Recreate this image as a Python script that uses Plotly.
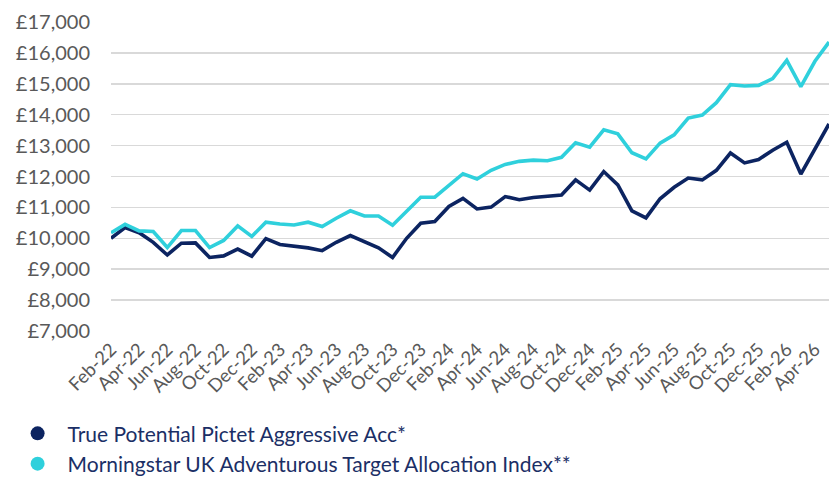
import plotly.graph_objects as go

months = ["Feb-22","Mar-22","Apr-22","May-22","Jun-22","Jul-22","Aug-22","Sep-22","Oct-22","Nov-22","Dec-22",
          "Jan-23","Feb-23","Mar-23","Apr-23","May-23","Jun-23","Jul-23","Aug-23","Sep-23","Oct-23","Nov-23","Dec-23",
          "Jan-24","Feb-24","Mar-24","Apr-24","May-24","Jun-24","Jul-24","Aug-24","Sep-24","Oct-24","Nov-24","Dec-24",
          "Jan-25","Feb-25","Mar-25","Apr-25","May-25","Jun-25","Jul-25","Aug-25","Sep-25","Oct-25","Nov-25","Dec-25",
          "Jan-26","Feb-26","Mar-26","Apr-26","May-26"]

fund = [10000, 10350, 10180, 9870, 9460, 9840, 9850, 9380, 9430, 9650, 9420,
        9990, 9800, 9740, 9690, 9600, 9870, 10090, 9900, 9690, 9380, 10000, 10490,
        10540, 11030, 11290, 10950, 11010, 11350, 11250, 11320, 11350, 11400, 11890, 11560,
        12160, 11730, 10890, 10660, 11280, 11650, 11950, 11890, 12200, 12760, 12440, 12550,
        12850, 13110, 12080, 12900, 13700]

index = [10180, 10450, 10240, 10220, 9700, 10250, 10250, 9700, 9930, 10400, 10060,
         10520, 10460, 10430, 10520, 10380, 10650, 10890, 10720, 10720, 10420, 10880, 11330,
         11330, 11710, 12090, 11920, 12200, 12390, 12490, 12530, 12510, 12620, 13090, 12950,
         13510, 13380, 12770, 12570, 13080, 13350, 13890, 13990, 14390, 14970, 14930, 14950,
         15170, 15760, 14910, 15730, 16350]

y_ticks = [7000, 8000, 9000, 10000, 11000, 12000, 13000, 14000, 15000, 16000, 17000]
y_tick_labels = ["£7,000", "£8,000", "£9,000", "£10,000", "£11,000", "£12,000",
                 "£13,000", "£14,000", "£15,000", "£16,000", "£17,000"]

series_names = ["True Potential Pictet Aggressive Acc*",
                "Morningstar UK Adventurous Target Allocation Index**"]

NAVY = "#0c2461"
CYAN = "#2fd0dc"

x = list(range(len(months)))
tick_idx = x[::2][:26]

fig = go.Figure()
fig.add_trace(go.Scatter(x=x, y=fund, mode="lines", line=dict(color=NAVY, width=3.6),
                         showlegend=False, hoverinfo="skip"))
fig.add_trace(go.Scatter(x=x, y=index, mode="lines", line=dict(color=CYAN, width=3.6),
                         showlegend=False, hoverinfo="skip"))
# legend entries
fig.add_trace(go.Scatter(x=[None], y=[None], mode="markers", name=series_names[0],
                         marker=dict(color=NAVY, size=14, symbol="circle")))
fig.add_trace(go.Scatter(x=[None], y=[None], mode="markers", name=series_names[1],
                         marker=dict(color=CYAN, size=14, symbol="circle")))

fig.update_layout(
    width=829, height=477,
    margin=dict(l=111, r=0, t=22, b=146, autoexpand=False),
    paper_bgcolor="white", plot_bgcolor="white",
    font=dict(family="Lato", color="#595959"),
    legend=dict(
        x=-0.144, y=-0.266, xanchor="left", yanchor="top",
        orientation="v",
        font=dict(family="Lato", size=21, color="#1b2f66"),
        itemwidth=50, tracegroupgap=0,
        bgcolor="rgba(0,0,0,0)",
    ),
    xaxis=dict(
        range=[0, 51], showgrid=False, zeroline=False, showline=False, automargin=False,
        tickmode="array", tickvals=tick_idx, ticktext=[months[i] for i in tick_idx],
        tickangle=-45, tickfont=dict(size=18.5, color="#595959"),
        ticks="", ticklabelstandoff=3,
    ),
    yaxis=dict(
        range=[6999, 17001], showgrid=True, gridcolor="#d9d9d9", gridwidth=1.5,
        zeroline=False, showline=False, automargin=False,
        tickmode="array", tickvals=y_ticks, ticktext=y_tick_labels,
        tickfont=dict(size=20, color="#595959"), ticks="", ticklabelstandoff=20,
    ),
)

fig.write_html("out.html", config={"displayModeBar": False, "staticPlot": True},
               post_script="document.body.style.margin='0';document.body.style.padding='0';")
